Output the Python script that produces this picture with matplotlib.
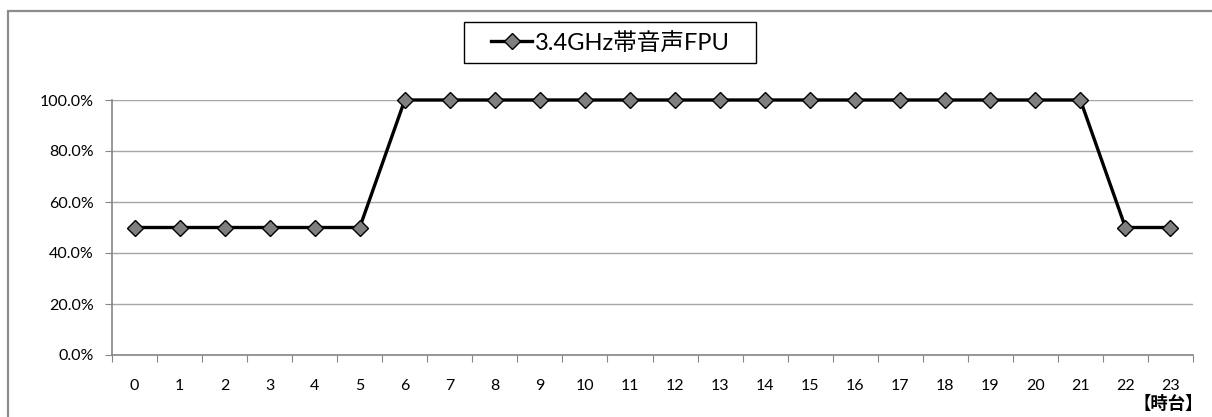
import matplotlib
matplotlib.use("Agg")
import matplotlib.pyplot as plt
from matplotlib.patches import Rectangle
from matplotlib.ticker import FuncFormatter, FixedLocator
import numpy as np

hours = list(range(24))
hour_labels = [str(h) for h in hours]
fpu_values = [0.5, 0.5, 0.5, 0.5, 0.5, 0.5, 1.0, 1.0, 1.0, 1.0, 1.0, 1.0,
              1.0, 1.0, 1.0, 1.0, 1.0, 1.0, 1.0, 1.0, 1.0, 1.0, 0.5, 0.5]
series_name = "3.4GHz帯音声FPU"
y_ticks = [0.0, 0.2, 0.4, 0.6, 0.8, 1.0]
x_title = "【時台】"

fam = ['Lato', 'Noto Sans CJK JP', 'DejaVu Sans']
plt.rcParams['font.family'] = fam

W, H = 1212, 417
fig = plt.figure(figsize=(W / 100, H / 100), dpi=100)

# outer chart border
fig.patches.append(Rectangle((7.5 / W, -0.05), 1.2, 1 - 10.5 / H + 0.05,
                             transform=fig.transFigure, fill=False,
                             edgecolor='#8c8c8c', linewidth=1.6))

ax = fig.add_axes([112 / W, 1 - 355 / H, (1193 - 112) / W, (355 - 100) / H])
line, = ax.plot(hours, fpu_values, color='black', linewidth=2.4,
                marker='D', markersize=8.5, markerfacecolor='#7f7f7f',
                markeredgecolor='black', markeredgewidth=1.0,
                label=series_name, zorder=3, clip_on=False)

ax.set_xlim(-0.5, 23.5)
ax.set_ylim(0, 1.0)
ax.set_yticks(y_ticks)
ax.yaxis.set_major_formatter(FuncFormatter(lambda v, p: f"{v*100:.1f}%"))
ax.grid(axis='y', color='#a6a6a6', linewidth=1.0)
ax.set_axisbelow(True)

ax.xaxis.set_major_locator(FixedLocator(np.arange(-0.5, 24, 1.0)))
ax.xaxis.set_major_formatter(FuncFormatter(lambda v, p: ""))
ax.set_xticks(hours, minor=True)
ax.set_xticklabels(hour_labels, minor=True)
ax.tick_params(axis='x', which='minor', length=0, pad=17, labelsize=11.5)
ax.tick_params(axis='x', which='major', length=5, color='#868686', direction='out')
ax.tick_params(axis='y', length=5, color='#868686', direction='out', pad=8, labelsize=11.5)

for s in ['top', 'right']:
    ax.spines[s].set_visible(False)
for s in ['left', 'bottom']:
    ax.spines[s].set_color('#868686')
    ax.spines[s].set_linewidth(1.2)

# legend box
fig.patches.append(Rectangle((464 / W, 1 - 63 / H), (756 - 464) / W, (63 - 22) / H,
                             transform=fig.transFigure, fill=False,
                             edgecolor='black', linewidth=1.0))
leg = fig.legend(handles=[line], loc='center left',
                 bbox_to_anchor=(491 / W, 1 - 42.5 / H),
                 prop={'family': fam, 'size': 17},
                 frameon=False, handlelength=1.75,
                 handletextpad=0.1, borderpad=0, borderaxespad=0,
                 markerscale=0.9)

fig.text(1203 / W, 1 - 404 / H, x_title, ha='right', va='center',
         fontsize=12.5, fontweight='bold', family=['Noto Sans CJK JP', 'DejaVu Sans'])

fig.savefig("out.png", dpi=100, facecolor='white')
